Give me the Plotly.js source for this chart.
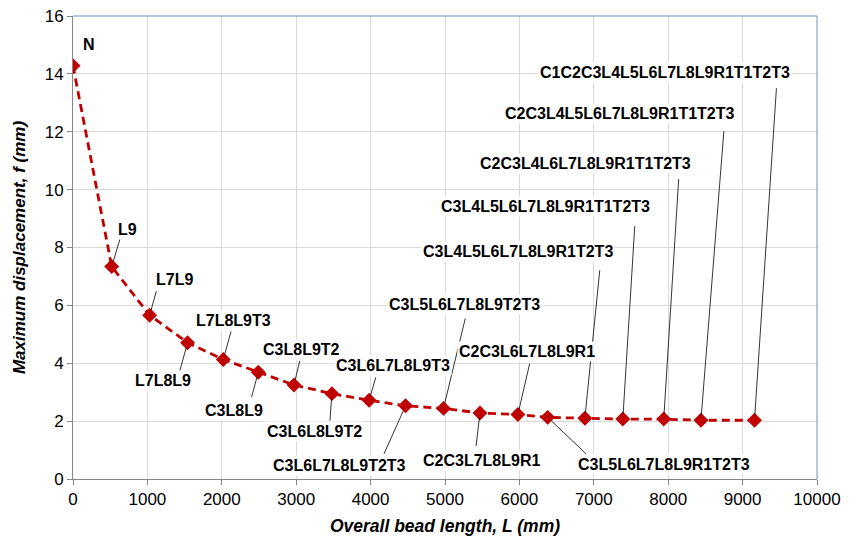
<!DOCTYPE html>
<html>
<head>
<meta charset="utf-8">
<script src="https://cdn.plot.ly/plotly-3.0.1.min.js"></script>
<style>html,body{margin:0;padding:0;background:#fff;}#chart{width:857px;height:536px;}</style>
</head>
<body>
<div id="chart"></div>
<script>
// ---- data ----
const beadLength = [0, 520, 1030, 1540, 2020, 2490, 2970, 3480, 3980, 4470, 4980, 5470, 5980, 6380, 6880, 7390, 7940, 8440, 9160];
const maxDisp = [14.28, 7.34, 5.66, 4.71, 4.13, 3.69, 3.25, 2.95, 2.72, 2.53, 2.44, 2.28, 2.23, 2.13, 2.10, 2.07, 2.07, 2.03, 2.03];
const pointLabels = ["N", "L9", "L7L9", "L7L8L9", "L7L8L9T3", "C3L8L9", "C3L8L9T2", "C3L6L8L9T2",
  "C3L6L7L8L9T3", "C3L6L7L8L9T2T3", "C3L5L6L7L8L9T2T3", "C2C3L7L8L9R1", "C2C3L6L7L8L9R1",
  "C3L5L6L7L8L9R1T2T3", "C3L4L5L6L7L8L9R1T2T3", "C3L4L5L6L7L8L9R1T1T2T3", "C2C3L4L6L7L8L9R1T1T2T3",
  "C2C3L4L5L6L7L8L9R1T1T2T3", "C1C2C3L4L5L6L7L8L9R1T1T2T3"];
const xTickVals = [0,1000,2000,3000,4000,5000,6000,7000,8000,9000,10000];
const xTickText = ["0","1000","2000","3000","4000","5000","6000","7000","8000","9000","10000"];
const yTickVals = [0,2,4,6,8,10,12,14,16];
const yTickText = ["0","2","4","6","8","10","12","14","16"];

// ---- label layout (pixel offsets from each point) ----
const textOffset = [[16,-21],[16,-37],[25,-36],[-25,38],[10,-39],[-24,38],[8,-35],[-17,38],[24,-35],
  [-66,60],[21,-104],[2,47],[9,-63],[116,47],[-67,-167],[-77,-213],[-78,-256],[-81,-307],[-90,-348]];
const leaderOffset = [null,[9,-30],[7,-25],[-8,29],[8,-29],[-7,26],[6,-25],[-2,28],[7,-24],
  [-22,49],[22,-91],[-4,34],[12,-52],[39,37],[15,-149],[12,-194],[15,-241],[23,-290],[22,-333]];

const FONT = "Liberation Sans, Arial, Helvetica, sans-serif";
const red = "#c00000";

const trace = {
  x: beadLength, y: maxDisp, type: "scatter", mode: "lines+markers",
  line: {color: red, width: 2.8, dash: "8px,5px"},
  marker: {symbol: "diamond", size: 11.5, color: red},
  hoverinfo: "x+y", showlegend: false
};

const annotations = [];
pointLabels.forEach((lab, i) => {
  const lo = leaderOffset[i];
  if (lo) {
    annotations.push({
      x: beadLength[i], y: maxDisp[i], xref: "x", yref: "y",
      text: " ", font: {size: 1}, borderpad: 0,
      showarrow: true, arrowhead: 0, arrowwidth: 0.8, arrowcolor: "#000",
      ax: lo[0], ay: lo[1], standoff: 5
    });
  }
});
pointLabels.forEach((lab, i) => {
  const to = textOffset[i];
  annotations.push({
    x: beadLength[i], y: maxDisp[i], xref: "x", yref: "y",
    text: lab, showarrow: false, xanchor: "center", yanchor: "middle",
    xshift: to[0], yshift: -to[1],
    bgcolor: "#ffffff", borderpad: 1,
    font: {family: FONT, size: 16, color: "#000", weight: "bold"}
  });
});

const layout = {
  width: 857, height: 536,
  margin: {l: 73, r: 40, t: 16, b: 57},
  paper_bgcolor: "#fff", plot_bgcolor: "#fff",
  font: {family: FONT, color: "#000"},
  xaxis: {
    range: [0, 10000], tickvals: xTickVals, ticktext: xTickText, ticks: "outside", ticklen: 5, tickcolor: "#868686",
    showgrid: true, gridcolor: "#d9d9d9", gridwidth: 1, zeroline: false,
    showline: true, linecolor: "#868686", linewidth: 1,
    tickfont: {family: FONT, size: 17, color: "#000"},
    title: {text: "Overall bead length, L (mm)", standoff: 17,
      font: {family: FONT, size: 17.5, weight: "bold", style: "italic", color: "#000"}},
    automargin: false
  },
  yaxis: {
    range: [0, 16], tickvals: yTickVals, ticktext: yTickText, ticks: "outside", ticklen: 5, tickcolor: "#868686",
    showgrid: true, gridcolor: "#d9d9d9", gridwidth: 1, zeroline: false,
    showline: true, linecolor: "#868686", linewidth: 1,
    tickfont: {family: FONT, size: 17, color: "#000"},
    title: {text: "Maximum displacement, f (mm)", standoff: 14,
      font: {family: FONT, size: 17, weight: "bold", style: "italic", color: "#000"}},
    automargin: false
  },
  shapes: [
    {type: "line", xref: "paper", yref: "paper", x0: 0, x1: 1, y0: 1, y1: 1, line: {color: "#6a8fc8", width: 1}},
    {type: "line", xref: "paper", yref: "paper", x0: 1, x1: 1, y0: 0, y1: 1, line: {color: "#6a8fc8", width: 1}}
  ],
  annotations: annotations
};

Plotly.newPlot("chart", [trace], layout, {displayModeBar: false, staticPlot: true});
</script>
</body>
</html>
